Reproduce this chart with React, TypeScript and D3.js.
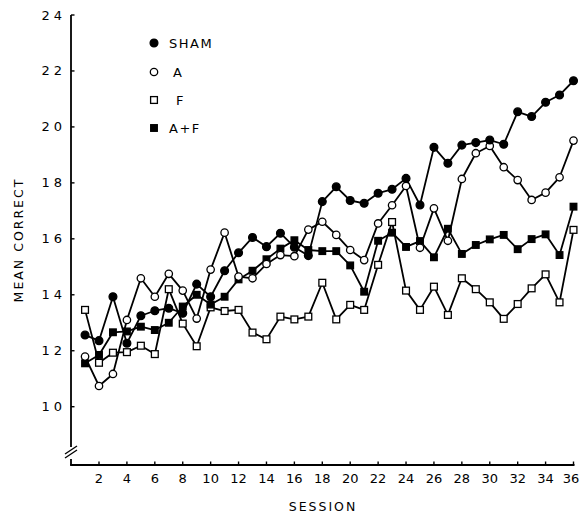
import React from "react";
import * as d3 from "d3";

const sessions = d3.range(1, 37);
const xTicks = d3.range(2, 37, 2);
const yTicks = d3.range(10, 25, 2);

const sham = [12.56, 12.36, 13.93, 12.27, 13.25, 13.43, 13.52, 13.34, 14.38, 13.93, 14.86, 15.5, 16.05, 15.72, 16.2, 15.7, 15.4, 17.33, 17.86, 17.37, 17.27, 17.63, 17.77, 18.16, 17.21, 19.27, 18.7, 19.35, 19.44, 19.53, 19.38, 20.54, 20.37, 20.88, 21.14, 21.65];
const groupA = [11.79, 10.74, 11.17, 13.1, 14.59, 13.93, 14.75, 14.15, 13.15, 14.9, 16.22, 14.65, 14.59, 15.1, 15.42, 15.38, 16.33, 16.61, 16.14, 15.6, 15.24, 16.55, 17.2, 17.89, 15.68, 17.09, 15.93, 18.14, 19.06, 19.32, 18.56, 18.1, 17.39, 17.65, 18.2, 19.51];
const groupF = [13.46, 11.57, 11.93, 11.95, 12.18, 11.88, 14.2, 12.97, 12.16, 13.55, 13.42, 13.46, 12.65, 12.41, 13.22, 13.12, 13.22, 14.43, 13.12, 13.64, 13.46, 15.07, 16.6, 14.15, 13.46, 14.29, 13.28, 14.59, 14.2, 13.73, 13.14, 13.67, 14.23, 14.73, 13.73, 16.32];
const groupAF = [11.55, 11.85, 12.66, 12.69, 12.86, 12.74, 13.0, 13.58, 14.0, 13.65, 13.93, 14.55, 14.86, 15.27, 15.65, 15.95, 15.6, 15.56, 15.56, 15.05, 14.11, 15.93, 16.22, 15.71, 15.92, 15.34, 16.36, 15.46, 15.78, 15.98, 16.14, 15.63, 15.99, 16.16, 15.42, 17.15];

const seriesNames = ["SHAM", "A", "F", "A+F"];

type Shape = "circle" | "square";
const seriesDefs: { name: string; values: number[]; shape: Shape; filled: boolean; legendX: number }[] = [
  { name: seriesNames[2], values: groupF, shape: "square", filled: false, legendX: 176 },
  { name: seriesNames[3], values: groupAF, shape: "square", filled: true, legendX: 169 },
  { name: seriesNames[1], values: groupA, shape: "circle", filled: false, legendX: 173 },
  { name: seriesNames[0], values: sham, shape: "circle", filled: true, legendX: 169 },
];

const W = 581;
const H = 512;
const FONT = "'DejaVu Sans', Verdana, sans-serif";

function Marker({ x, y, shape, filled }: { x: number; y: number; shape: Shape; filled: boolean }) {
  if (shape === "circle") {
    return (
      <circle cx={x} cy={y} r={filled ? 3.9 : 3.7} fill={filled ? "#000" : "#fff"} stroke="#000" strokeWidth={1.3} />
    );
  }
  const s = filled ? 6.6 : 6.8;
  return (
    <rect x={x - s / 2} y={y - s / 2} width={s} height={s} fill={filled ? "#000" : "#fff"} stroke="#000" strokeWidth={1.3} />
  );
}

export default function App() {
  const x = d3.scaleLinear().domain([2, 36]).range([99, 573.5]);
  const y = d3.scaleLinear().domain([10, 24]).range([406.7, 15]);
  const axisX = 71;
  const axisY = 465;

  const line = d3
    .line<number>()
    .x((_, i) => x(sessions[i]))
    .y((d) => y(d));

  const legendOrder = [seriesDefs[3], seriesDefs[2], seriesDefs[0], seriesDefs[1]];
  const legendY = [43, 72, 100, 128];

  return (
    <svg
      width={W}
      height={H}
      viewBox={`0 0 ${W} ${H}`}
      style={{ position: "absolute", left: 0, top: 0, background: "#fff" }}
    >
      <rect x={0} y={0} width={W} height={H} fill="#fff" />
      {/* Y axis with break */}
      <line x1={axisX} y1={y(24)} x2={axisX} y2={447} stroke="#000" strokeWidth={1.8} />
      <line x1={axisX} y1={459} x2={axisX} y2={axisY} stroke="#000" strokeWidth={1.8} />
      <line x1={65} y1={454} x2={77} y2={446} stroke="#000" strokeWidth={1.3} />
      <line x1={65} y1={458} x2={77} y2={450} stroke="#000" strokeWidth={1.3} />
      {/* X axis */}
      <line x1={axisX - 0.9} y1={axisY} x2={x(36) + 1} y2={axisY} stroke="#000" strokeWidth={1.8} />
      {yTicks.map((t) => (
        <g key={"y" + t}>
          <line x1={axisX} x2={axisX + 3.5} y1={y(t)} y2={y(t)} stroke="#000" strokeWidth={1.4} />
          <text
            x={66}
            y={y(t)}
            textAnchor="end"
            dominantBaseline="central"
            fontFamily={FONT}
            fontSize={13}
            letterSpacing={4}
            fill="#000"
          >
            {String(t)}
          </text>
        </g>
      ))}
      {xTicks.map((t) => (
        <g key={"x" + t}>
          <line x1={x(t)} x2={x(t)} y1={axisY} y2={axisY - 3.5} stroke="#000" strokeWidth={1.4} />
          <text
            x={Math.min(x(t), W - 10)}
            y={478}
            textAnchor="middle"
            dominantBaseline="central"
            fontFamily={FONT}
            fontSize={13}
            fill="#000"
          >
            {String(t)}
          </text>
        </g>
      ))}
      <text
        x={323}
        y={506}
        textAnchor="middle"
        dominantBaseline="central"
        fontFamily={FONT}
        fontSize={12.5}
        letterSpacing={2}
        fill="#000"
      >
        SESSION
      </text>
      <text
        transform="translate(18,240) rotate(-90)"
        textAnchor="middle"
        dominantBaseline="central"
        fontFamily={FONT}
        fontSize={12.5}
        letterSpacing={2}
        fill="#000"
      >
        MEAN CORRECT
      </text>

      {/* Lines */}
      {seriesDefs.map((s) => (
        <path key={"l" + s.name} d={line(s.values) || ""} fill="none" stroke="#000" strokeWidth={1.8} strokeLinejoin="round" />
      ))}
      {/* Markers */}
      {seriesDefs.map((s) => (
        <g key={"m" + s.name}>
          {s.values.map((v, i) => (
            <Marker key={i} x={x(sessions[i])} y={y(v)} shape={s.shape} filled={s.filled} />
          ))}
        </g>
      ))}

      {/* Legend */}
      {legendOrder.map((s, i) => (
        <g key={"lg" + s.name}>
          <Marker x={154} y={legendY[i]} shape={s.shape} filled={s.filled} />
          <text
            x={s.legendX}
            y={legendY[i]}
            dominantBaseline="central"
            fontFamily={FONT}
            fontSize={13}
            letterSpacing={1.5}
            fill="#000"
          >
            {s.name}
          </text>
        </g>
      ))}
    </svg>
  );
}
